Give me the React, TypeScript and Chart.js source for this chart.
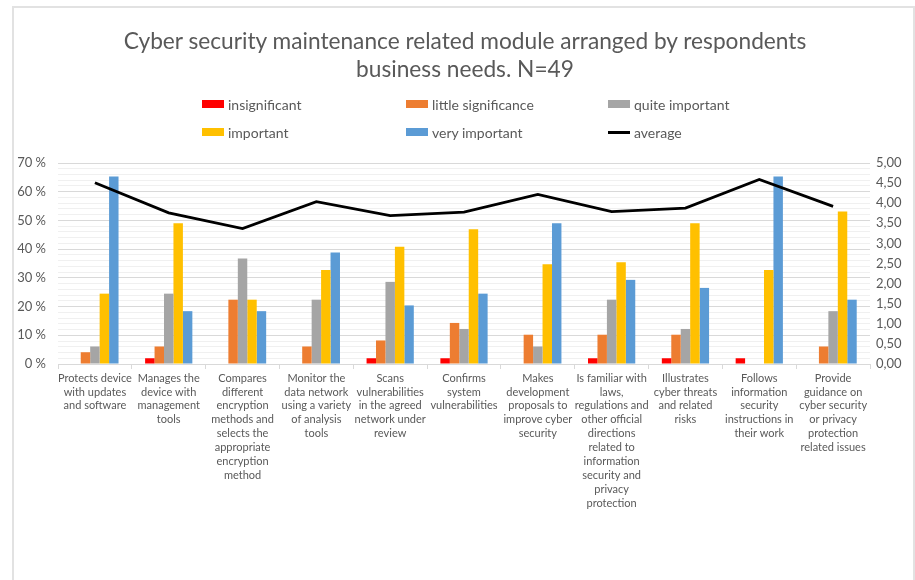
import React, { useEffect, useRef } from "react";
import { Chart, registerables } from "chart.js";

Chart.register(...registerables);

// Survey categories (pre-wrapped into label lines)
const categories: string[][] = [
  ["Protects device", "with updates", "and software"],
  ["Manages the", "device with", "management", "tools"],
  ["Compares", "different", "encryption", "methods and", "selects the", "appropriate", "encryption", "method"],
  ["Monitor the", "data network", "using a variety", "of analysis", "tools"],
  ["Scans", "vulnerabilities", "in the agreed", "network under", "review"],
  ["Confirms", "system", "vulnerabilities"],
  ["Makes", "development", "proposals to", "improve cyber", "security"],
  ["Is familiar with", "laws,", "regulations and", "other official", "directions", "related to", "information", "security and", "privacy", "protection"],
  ["Illustrates", "cyber threats", "and related", "risks"],
  ["Follows", "information", "security", "instructions in", "their work"],
  ["Provide", "guidance on", "cyber security", "or privacy", "protection", "related issues"],
];

// Share of respondents (%) per answer
const insignificant = [0, 2.0, 0, 0, 2.0, 2.0, 0, 2.0, 2.0, 2.0, 0];
const littleSignificance = [4.1, 6.1, 22.4, 6.1, 8.2, 14.3, 10.2, 10.2, 10.2, 0, 6.1];
const quiteImportant = [6.1, 24.5, 36.7, 22.4, 28.6, 12.2, 6.1, 22.4, 12.2, 0, 18.4];
const important = [24.5, 49.0, 22.4, 32.7, 40.8, 46.9, 34.7, 35.4, 49.0, 32.7, 53.1];
const veryImportant = [65.3, 18.4, 18.4, 38.8, 20.4, 24.5, 49.0, 29.3, 26.5, 65.3, 22.4];

// Mean score on a 1-5 scale (right axis)
const average = [4.51, 3.76, 3.37, 4.04, 3.69, 3.78, 4.22, 3.79, 3.88, 4.59, 3.92];

const seriesNames = ["insignificant", "little significance", "quite important", "important", "very important", "average"];
const seriesColors = ["#FF0000", "#ED7D31", "#A5A5A5", "#FFC000", "#5B9BD5", "#000000"];

const FONT = "Lato, 'Open Sans', sans-serif";
const TEXT = "#595959";

export default function App() {
  const canvasRef = useRef<HTMLCanvasElement | null>(null);

  useEffect(() => {
    const canvas = canvasRef.current;
    if (!canvas) return;
    const barSeries = [insignificant, littleSignificance, quiteImportant, important, veryImportant];
    const chart = new Chart(canvas, {
      type: "bar",
      data: {
        labels: categories,
        datasets: [
          {
            type: "line",
            label: seriesNames[5],
            data: average,
            yAxisID: "y1",
            borderColor: seriesColors[5],
            backgroundColor: seriesColors[5],
            borderWidth: 2.8,
            pointRadius: 0,
            tension: 0,
            order: 0,
          } as any,
          ...barSeries.map((d, i) => ({
            type: "bar",
            label: seriesNames[i],
            data: d,
            yAxisID: "y",
            backgroundColor: seriesColors[i],
            borderWidth: 0,
            categoryPercentage: 0.64,
            barPercentage: 1,
            order: 1,
          })),
        ],
      },
      options: {
        animation: false,
        responsive: false,
        maintainAspectRatio: false,
        layout: { padding: { top: 163, left: 0, right: 0, bottom: 0 } },
        plugins: {
          legend: { display: false },
          title: { display: false },
          tooltip: { enabled: false },
        },
        scales: {
          x: {
            grid: { drawOnChartArea: false, color: "#d9d9d9", tickLength: 5, offset: true },
            border: { color: "#d9d9d9", width: 1 },
            ticks: {
              color: TEXT,
              font: { family: FONT, size: 11, lineHeight: 1.27 },
              padding: 2,
              maxRotation: 0,
              minRotation: 0,
              autoSkip: false,
            },
            afterFit: (s: any) => {
              s.height = 216;
            },
          },
          y: {
            min: 0,
            max: 70,
            ticks: {
              stepSize: 2,
              autoSkip: false,
              padding: 12,
              color: TEXT,
              font: { family: FONT, size: 13 },
              callback: (v: any) => (Number(v) % 10 === 0 ? `${v} %` : ""),
            },
            grid: {
              drawTicks: false,
              color: (ctx: any) => (ctx.tick && ctx.tick.value % 10 === 0 ? "#d9d9d9" : "#f0f0f0"),
            },
            border: { display: false },
            afterFit: (s: any) => {
              s.width = 58;
            },
          },
          y1: {
            position: "right",
            min: 0,
            max: 5,
            ticks: {
              stepSize: 0.5,
              padding: 6,
              color: TEXT,
              font: { family: FONT, size: 13 },
              callback: (v: any) => Number(v).toFixed(2).replace(".", ","),
            },
            grid: { display: false, drawTicks: false },
            border: { display: false },
            afterFit: (s: any) => {
              s.width = 45;
            },
          },
        },
      } as any,
    });
    return () => chart.destroy();
  }, []);

  const legendOrder = [0, 1, 2, 3, 4, 5];

  return (
    <div
      style={{
        position: "fixed",
        left: 0,
        top: 0,
        width: 915,
        height: 580,
        background: "#fff",
        overflow: "hidden",
        fontFamily: FONT,
      }}
    >
      <div
        style={{
          position: "absolute",
          left: 12,
          top: 6,
          width: 903,
          height: 700,
          border: "2px solid #e2e2e2",
          boxSizing: "border-box",
        }}
      />
      <canvas ref={canvasRef} width={915} height={580} style={{ position: "absolute", left: 0, top: 0 }} />
      <div
        style={{
          position: "absolute",
          left: 13,
          top: 27,
          width: 904,
          textAlign: "center",
          fontSize: 22.7,
          lineHeight: "28px",
          color: TEXT,
        }}
      >
        Cyber security maintenance related module arranged by respondents
        <br />
        business needs. N=49
      </div>
      <div
        style={{
          position: "absolute",
          left: 202,
          top: 90,
          display: "grid",
          gridTemplateColumns: "204px 202px 200px",
          gridAutoRows: "28px",
          fontSize: 14,
          color: TEXT,
        }}
      >
        {legendOrder.map((i) => (
          <div key={i} style={{ display: "flex", alignItems: "center" }}>
            <span
              style={{
                display: "inline-block",
                width: 22,
                height: i === 5 ? 3 : 8,
                background: seriesColors[i],
                marginRight: 4,
              }}
            />
            <span>{seriesNames[i]}</span>
          </div>
        ))}
      </div>
    </div>
  );
}
